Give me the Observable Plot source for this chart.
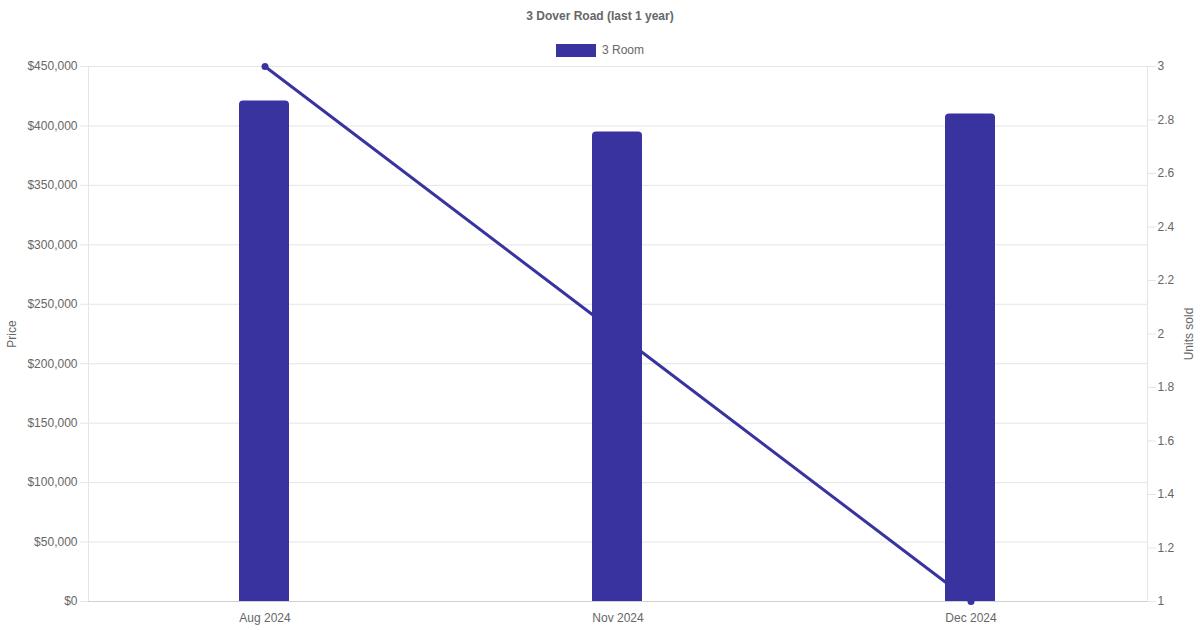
<!DOCTYPE html>
<html>
<head>
<meta charset="utf-8">
<script src="https://cdn.jsdelivr.net/npm/d3@7"></script>
<script src="https://cdn.jsdelivr.net/npm/@observablehq/plot@0.6"></script>
<style>
  html, body { margin: 0; padding: 0; background: #fff; }
  body { width: 1200px; height: 630px; position: relative; overflow: hidden; font-family: "Liberation Sans", Arial, Helvetica, sans-serif; }
  #title { position: absolute; top: 9px; left: 0; width: 1200px; text-align: center; font-size: 12px; font-weight: bold; color: #666; }
  #legend { position: absolute; top: 43px; left: 2px; width: 1200px; display: flex; justify-content: center; align-items: center; font-size: 12px; color: #666; }
  #legend .sw { width: 38px; height: 11px; background: #3933a0; border: 1px solid #3933a0; margin-right: 6px; margin-left: -4px; }
  #chart { position: absolute; top: 0; left: 0; }
</style>
</head>
<body>
<div id="chart"></div>
<div id="title">3 Dover Road (last 1 year)</div>
<div id="legend"><span class="sw"></span><span>3 Room</span></div>
<script>
const months = ["Aug 2024", "Nov 2024", "Dec 2024"];
const prices = [421000, 395000, 410000];
const units = [3, 2, 1];
const priceTicks = [0, 50000, 100000, 150000, 200000, 250000, 300000, 350000, 400000, 450000];
const unitTicks = [1, 1.2, 1.4, 1.6, 1.8, 2, 2.2, 2.4, 2.6, 2.8, 3];
const seriesName = "3 Room";

const color = "#3933a0";
const uMin = 1, uMax = 3, pMax = 450000;
const u2p = u => (u - uMin) / (uMax - uMin) * pMax;
const p2u = p => uMin + p / pMax * (uMax - uMin);

const data = months.map((m, i) => ({month: m, price: prices[i], units: units[i], unitsP: u2p(units[i])}));

const chart = Plot.plot({
  width: 1200,
  height: 630,
  marginLeft: 88,
  marginRight: 53,
  marginTop: 66,
  marginBottom: 29,
  style: {fontFamily: '"Liberation Sans", Arial, Helvetica, sans-serif', fontSize: "12px", color: "#666", background: "transparent"},
  x: {domain: months, padding: 0},
  y: {domain: [0, pMax]},
  marks: [
    Plot.gridY(priceTicks, {stroke: "#e5e5e5", strokeOpacity: 1}),
    Plot.frame({stroke: "#e5e5e5"}),
    Plot.axisY(priceTicks, {anchor: "left", tickSize: 8, tickPadding: 3, stroke: "#e5e5e5", fill: "#666", fontSize: 12,
      tickFormat: d => "$" + d3.format(",")(d), label: "Price", labelAnchor: "center", labelOffset: 81, labelArrow: "none"}),
    Plot.axisY(unitTicks.map(u2p), {anchor: "right", tickSize: 8, tickPadding: 2, stroke: "#e5e5e5", fill: "#666", fontSize: 12,
      tickFormat: p => String(+p2u(p).toFixed(1)), label: "Units sold", labelAnchor: "center", labelOffset: 45, labelArrow: "none"}),
    Plot.axisX({tickSize: 0, tickPadding: 12, fill: "#666", fontSize: 12, label: null}),
    Plot.barY(data, {x: "month", y: "price", fill: color, rx: 4, insetLeft: 151, insetRight: 152}),
    Plot.barY(data, {x: "month", y1: 0, y2: d => d.price - 20000, fill: color, insetLeft: 151, insetRight: 152}),
    Plot.ruleY([0], {stroke: "#d0d0d0"}),
    Plot.lineY(data, {x: "month", y: "unitsP", stroke: color, strokeWidth: 3}),
    Plot.dot(data, {x: "month", y: "unitsP", fill: color, r: 3.5, stroke: null})
  ]
});
document.getElementById("chart").appendChild(chart);
</script>
</body>
</html>
